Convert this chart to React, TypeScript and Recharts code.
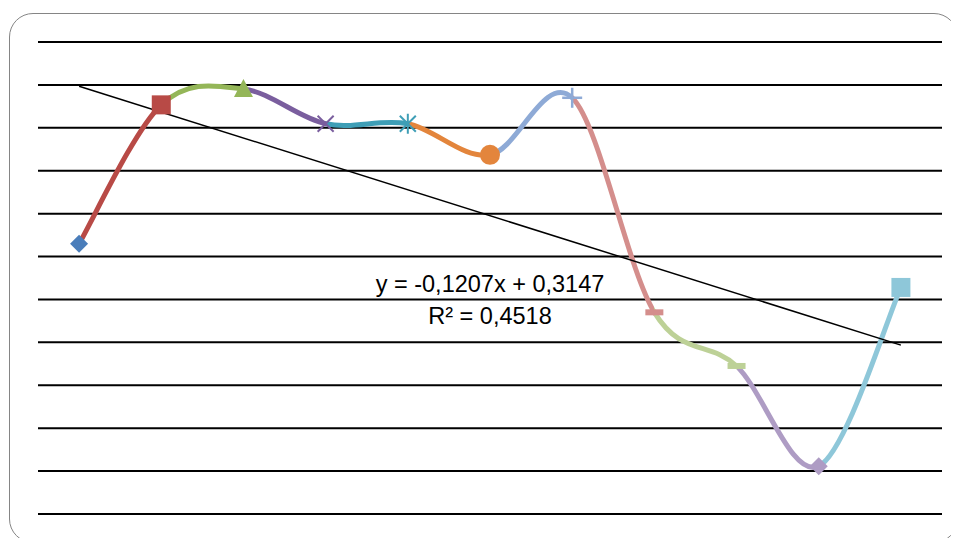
import React from "react";
import { LineChart, Line, XAxis, YAxis, CartesianGrid, ReferenceLine } from "recharts";

// point index (category) and values
const xs = [1, 2, 3, 4, 5, 6, 7, 8, 9, 10, 11];
const values = [-0.54, 0.107, 0.181, 0.019, 0.019, -0.126, 0.14, -0.86, -1.11, -1.577, -0.744];
const pointColors = [
  "#4A7DBA", "#B84A46", "#94B658", "#7A5E9E", "#3E9EB6", "#E3853C",
  "#8EAAD6", "#D48E8C", "#BDD197", "#AE9CC4", "#8EC7D9",
];
const markers = ["diamond", "square", "triangle", "x", "star", "circle", "plus", "dash", "dash", "diamond", "square"];
const yTicks = [0.4, 0.2, 0, -0.2, -0.4, -0.6, -0.8, -1, -1.2, -1.4, -1.6, -1.8];

// linear trendline as printed on the chart
const slope = -0.1207;
const intercept = 0.3147;
const equationLabel = "y = -0,1207x + 0,3147";
const r2Label = "R² = 0,4518";

const data = xs.map((x, i) => ({ x, value: values[i] }));

// Excel-like smoothing (Catmull-Rom as cubic beziers)
function excelSmooth(context: any) {
  let pts: [number, number][] = [];
  return {
    areaStart() {},
    areaEnd() {},
    lineStart() {
      pts = [];
    },
    point(x: number, y: number) {
      pts.push([+x, +y]);
    },
    lineEnd() {
      const n = pts.length;
      if (!n) return;
      context.moveTo(pts[0][0], pts[0][1]);
      for (let i = 0; i < n - 1; i++) {
        const p0 = pts[i - 1] ?? pts[i];
        const p1 = pts[i];
        const p2 = pts[i + 1];
        const p3 = pts[i + 2] ?? p2;
        context.bezierCurveTo(
          p1[0] + (p2[0] - p0[0]) / 6,
          p1[1] + (p2[1] - p0[1]) / 6,
          p2[0] - (p3[0] - p1[0]) / 6,
          p2[1] - (p3[1] - p1[1]) / 6,
          p2[0],
          p2[1]
        );
      }
    },
  };
}

function Marker(props: any) {
  const { cx, cy, index } = props;
  const c = pointColors[index];
  const kind = markers[index];
  const key = `m-${index}`;
  if (cx == null || cy == null) return <g key={key} />;
  switch (kind) {
    case "diamond":
      return <polygon key={key} points={`${cx},${cy - 9} ${cx + 9},${cy} ${cx},${cy + 9} ${cx - 9},${cy}`} fill={c} />;
    case "square":
      return <rect key={key} x={cx - 9.5} y={cy - 9.5} width={19} height={19} fill={c} />;
    case "triangle":
      return <polygon key={key} points={`${cx},${cy - 10} ${cx + 9.5},${cy + 8} ${cx - 9.5},${cy + 8}`} fill={c} />;
    case "x":
      return (
        <g key={key} stroke={c} strokeWidth={2}>
          <line x1={cx - 8} y1={cy - 8} x2={cx + 8} y2={cy + 8} />
          <line x1={cx - 8} y1={cy + 8} x2={cx + 8} y2={cy - 8} />
        </g>
      );
    case "star":
      return (
        <g key={key} stroke={c} strokeWidth={2}>
          <line x1={cx - 8} y1={cy - 8} x2={cx + 8} y2={cy + 8} />
          <line x1={cx - 8} y1={cy + 8} x2={cx + 8} y2={cy - 8} />
          <line x1={cx} y1={cy - 10} x2={cx} y2={cy + 10} />
        </g>
      );
    case "circle":
      return <circle key={key} cx={cx} cy={cy} r={10} fill={c} />;
    case "plus":
      return (
        <g key={key} stroke={c} strokeWidth={2.5}>
          <line x1={cx - 10} y1={cy} x2={cx + 10} y2={cy} />
          <line x1={cx} y1={cy - 10} x2={cx} y2={cy + 10} />
        </g>
      );
    case "dash":
      return <rect key={key} x={cx - 9} y={cy - 3} width={18} height={6} fill={c} />;
    default:
      return <g key={key} />;
  }
}

export default function App() {
  const stops: React.ReactElement[] = [];
  for (let k = 0; k < xs.length - 1; k++) {
    const col = pointColors[k + 1];
    stops.push(<stop key={`a${k}`} offset={k / (xs.length - 1)} stopColor={col} />);
    stops.push(<stop key={`b${k}`} offset={(k + 1) / (xs.length - 1)} stopColor={col} />);
  }
  const first = xs[0];
  const last = xs[xs.length - 1];

  return (
    <div style={{ position: "relative", width: 951, height: 530, overflow: "hidden" }}>
      <div
        style={{
          position: "absolute",
          left: 1,
          top: 5,
          width: 949,
          height: 530,
          border: "1.5px solid #858585",
          borderRadius: 24,
          boxSizing: "border-box",
          background: "#fff",
        }}
      />
      <div style={{ position: "absolute", left: 0, top: 0 }}>
        <LineChart width={951} height={530} data={data} margin={{ top: 34, right: 17, bottom: 24, left: 30 }}>
          <defs>
            <linearGradient id="segColors" x1="0" y1="0" x2="1" y2="0">
              {stops}
            </linearGradient>
          </defs>
          <CartesianGrid vertical={false} stroke="#000" strokeWidth={2} />
          <XAxis dataKey="x" type="number" domain={[0.5, 11.5]} hide />
          <YAxis type="number" domain={[-1.8, 0.4]} ticks={yTicks} hide />
          <Line
            dataKey="value"
            type={excelSmooth as any}
            stroke="url(#segColors)"
            strokeWidth={5}
            dot={Marker}
            activeDot={false}
            isAnimationActive={false}
          />
          <ReferenceLine
            segment={[
              { x: first, y: slope * first + intercept },
              { x: last, y: slope * last + intercept },
            ]}
            stroke="#000"
            strokeWidth={1.5}
            ifOverflow="visible"
          />
        </LineChart>
      </div>
      <div
        style={{
          position: "absolute",
          left: 282,
          top: 260,
          width: 400,
          textAlign: "center",
          fontFamily: "'Liberation Sans', Arial, sans-serif",
          fontSize: 23.5,
          lineHeight: "32px",
          color: "#000",
        }}
      >
        <div>{equationLabel}</div>
        <div>{r2Label}</div>
      </div>
    </div>
  );
}
